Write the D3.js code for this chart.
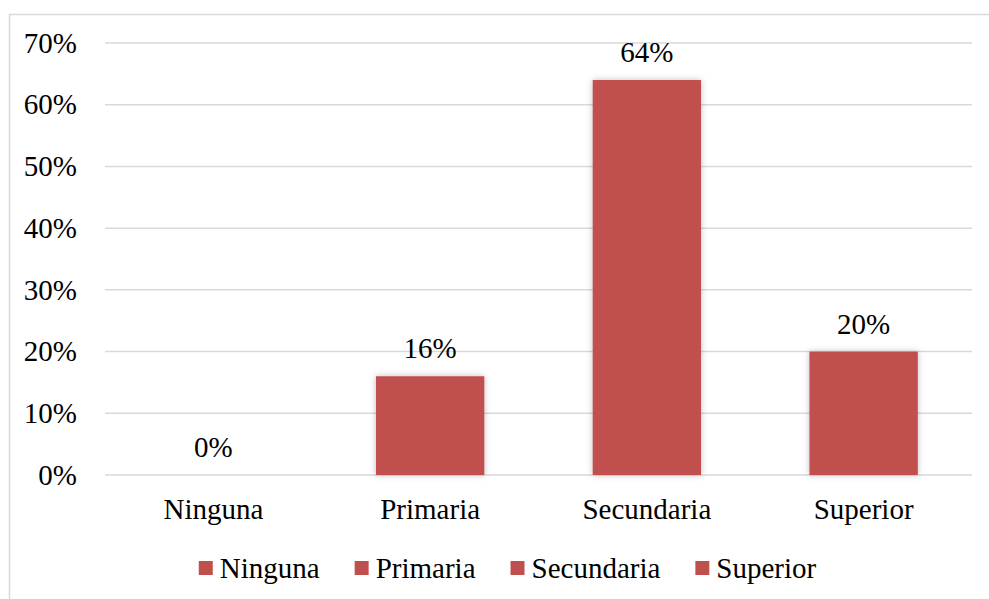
<!DOCTYPE html>
<html>
<head>
<meta charset="utf-8">
<script src="https://cdn.jsdelivr.net/npm/d3@7"></script>
<style>
    body { margin: 0; background: #fff; }
    text { font-family: "Liberation Serif", "Times New Roman", serif; fill: #000; }
</style>
</head>
<body>
<svg id="chart"></svg>
<script>
// chart data
const categories = ['Ninguna', 'Primaria', 'Secundaria', 'Superior'];
const values = [0, 0.16, 0.64, 0.20];
const yTicks = [0, 0.1, 0.2, 0.3, 0.4, 0.5, 0.6, 0.7];

const width = 989, height = 599;
const margin = {top: 43, right: 17, bottom: 124, left: 105};
const fontSize = 29;
const barColor = '#C0504D';

const svg = d3.select('#chart')
    .attr('width', width)
    .attr('height', height);

// drop shadow for the bars
const defs = svg.append('defs');
defs.append('filter')
    .attr('id', 'shadow')
    .attr('x', '-20%').attr('y', '-20%')
    .attr('width', '140%').attr('height', '140%')
    .append('feDropShadow')
    .attr('dx', 0).attr('dy', 0)
    .attr('stdDeviation', 3)
    .attr('flood-color', '#000')
    .attr('flood-opacity', 0.25);

// chart area border (top and left visible)
svg.append('rect')
    .attr('x', 9.5).attr('y', 14.5)
    .attr('width', width + 10).attr('height', height + 10)
    .attr('fill', 'none')
    .attr('stroke', '#d9d9d9')
    .attr('stroke-width', 1.5);

const innerW = width - margin.left - margin.right;
const innerH = height - margin.top - margin.bottom;

const g = svg.append('g')
    .attr('transform', `translate(${margin.left},${margin.top})`);

const x = d3.scaleBand()
    .domain(categories)
    .range([0, innerW])
    .paddingInner(0.5)
    .paddingOuter(0.25);

const y = d3.scaleLinear()
    .domain([0, 0.7])
    .range([innerH, 0]);

// gridlines
g.append('g')
    .selectAll('line')
    .data(yTicks)
    .join('line')
    .attr('x1', 0).attr('x2', innerW)
    .attr('y1', d => y(d)).attr('y2', d => y(d))
    .attr('stroke', '#d9d9d9')
    .attr('stroke-width', 1.5);

// y axis labels
const yAxis = d3.axisLeft(y)
    .tickValues(yTicks)
    .tickFormat(d3.format('.0%'))
    .tickSize(0)
    .tickPadding(28);
g.append('g')
    .call(yAxis)
    .call(a => a.select('.domain').remove())
    .selectAll('text')
    .style('font-size', fontSize + 'px')
    .style('font-family', '"Liberation Serif", serif')
    .attr('fill', '#000');

// x axis labels
const xAxis = d3.axisBottom(x)
    .tickSize(0)
    .tickPadding(23);
g.append('g')
    .attr('transform', `translate(0,${innerH})`)
    .call(xAxis)
    .call(a => a.select('.domain').remove())
    .selectAll('text')
    .style('font-size', fontSize + 'px')
    .style('font-family', '"Liberation Serif", serif')
    .attr('fill', '#000');

// bars
g.selectAll('.bar')
    .data(values)
    .join('rect')
    .attr('class', 'bar')
    .attr('x', (d, i) => x(categories[i]))
    .attr('y', d => y(d))
    .attr('width', x.bandwidth())
    .attr('height', d => innerH - y(d))
    .attr('fill', barColor)
    .attr('filter', d => d > 0 ? 'url(#shadow)' : null);

// data labels
g.selectAll('.label')
    .data(values)
    .join('text')
    .attr('class', 'label')
    .attr('x', (d, i) => x(categories[i]) + x.bandwidth() / 2)
    .attr('y', d => y(d) - 18)
    .attr('text-anchor', 'middle')
    .style('font-size', fontSize + 'px')
    .text(d => d3.format('.0%')(d));

// legend
const legend = svg.append('g')
    .attr('transform', 'translate(0,568)');
const items = legend.selectAll('g')
    .data(categories)
    .join('g');
items.append('rect')
    .attr('width', 14).attr('height', 14)
    .attr('y', -7)
    .attr('fill', barColor);
items.append('text')
    .attr('x', 21)
    .attr('dy', '0.35em')
    .style('font-size', fontSize + 'px')
    .text(d => d);

const gap = 35;
let widths = [];
items.each(function() {
    widths.push(21 + this.querySelector('text').getComputedTextLength());
});
const total = d3.sum(widths) + gap * (widths.length - 1);
let cx = (width - total) / 2 + 13;
items.attr('transform', (d, i) => {
    const t = `translate(${cx},0)`;
    cx += widths[i] + gap;
    return t;
});
</script>
</body>
</html>
